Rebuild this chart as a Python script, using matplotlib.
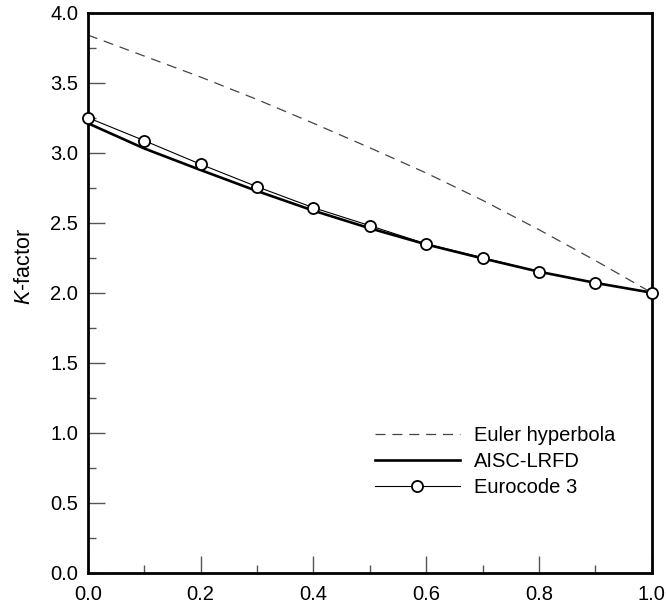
import matplotlib
matplotlib.use("Agg")
import matplotlib.pyplot as plt
from matplotlib.ticker import MultipleLocator, FormatStrFormatter

plt.rcParams['font.family'] = ['Liberation Sans', 'DejaVu Sans']
plt.rcParams['mathtext.fontset'] = 'custom'
plt.rcParams['mathtext.it'] = 'Liberation Sans:italic'
plt.rcParams['mathtext.rm'] = 'Liberation Sans'

x = [0.0, 0.1, 0.2, 0.3, 0.4, 0.5, 0.6, 0.7, 0.8, 0.9, 1.0]
euler = [3.84, 3.69, 3.54, 3.38, 3.21, 3.035, 2.855, 2.66, 2.45, 2.23, 2.0]
aisc = [3.21, 3.03, 2.876, 2.726, 2.586, 2.46, 2.345, 2.245, 2.15, 2.07, 2.0]
eurocode = [3.25, 3.086, 2.917, 2.757, 2.607, 2.479, 2.348, 2.25, 2.15, 2.071, 2.0]

labels = ["Euler hyperbola", "AISC-LRFD", "Eurocode 3"]

fig = plt.figure(figsize=(6.66, 6.12), dpi=100)
ax = fig.add_axes([0.132, 0.0642, 0.8465, 0.9151])

ax.plot(x, euler, linestyle=(0, (8, 5.5)), color='#444444', linewidth=0.9, label=labels[0])
ax.plot(x, aisc, color='black', linewidth=1.9, label=labels[1])
ax.plot(x, eurocode, color='black', linewidth=0.8, marker='o', markersize=8,
        markerfacecolor='white', markeredgecolor='black', markeredgewidth=1.3,
        clip_on=False, label=labels[2], zorder=5)

ax.set_xlim(0, 1)
ax.set_ylim(0, 4)
ax.xaxis.set_major_locator(MultipleLocator(0.2))
ax.xaxis.set_minor_locator(MultipleLocator(0.1))
ax.yaxis.set_major_locator(MultipleLocator(0.5))
ax.yaxis.set_minor_locator(MultipleLocator(0.25))
ax.xaxis.set_major_formatter(FormatStrFormatter('%.1f'))
ax.yaxis.set_major_formatter(FormatStrFormatter('%.1f'))

for s in ax.spines.values():
    s.set_linewidth(2.0)
    s.set_color('black')

ax.tick_params(which='both', direction='in', top=False, right=False, color='#555555', width=1.0)
ax.tick_params(which='major', length=12.5, labelsize=14.5)
ax.tick_params(axis='x', which='major', pad=9)
ax.tick_params(axis='y', which='major', pad=7)
ax.tick_params(which='minor', length=6)

ax.set_ylabel(r'$\mathit{K}$-factor', fontsize=15.5)
ax.yaxis.set_label_coords(-0.094, 0.546)

leg = ax.legend(loc='upper left', bbox_to_anchor=(375/666, 1-426/612), bbox_transform=fig.transFigure,
                frameon=False, fontsize=14.5, handlelength=4.2, handletextpad=0.7,
                labelspacing=0.35, borderpad=0, borderaxespad=0)

fig.savefig('out.png', dpi=100)
